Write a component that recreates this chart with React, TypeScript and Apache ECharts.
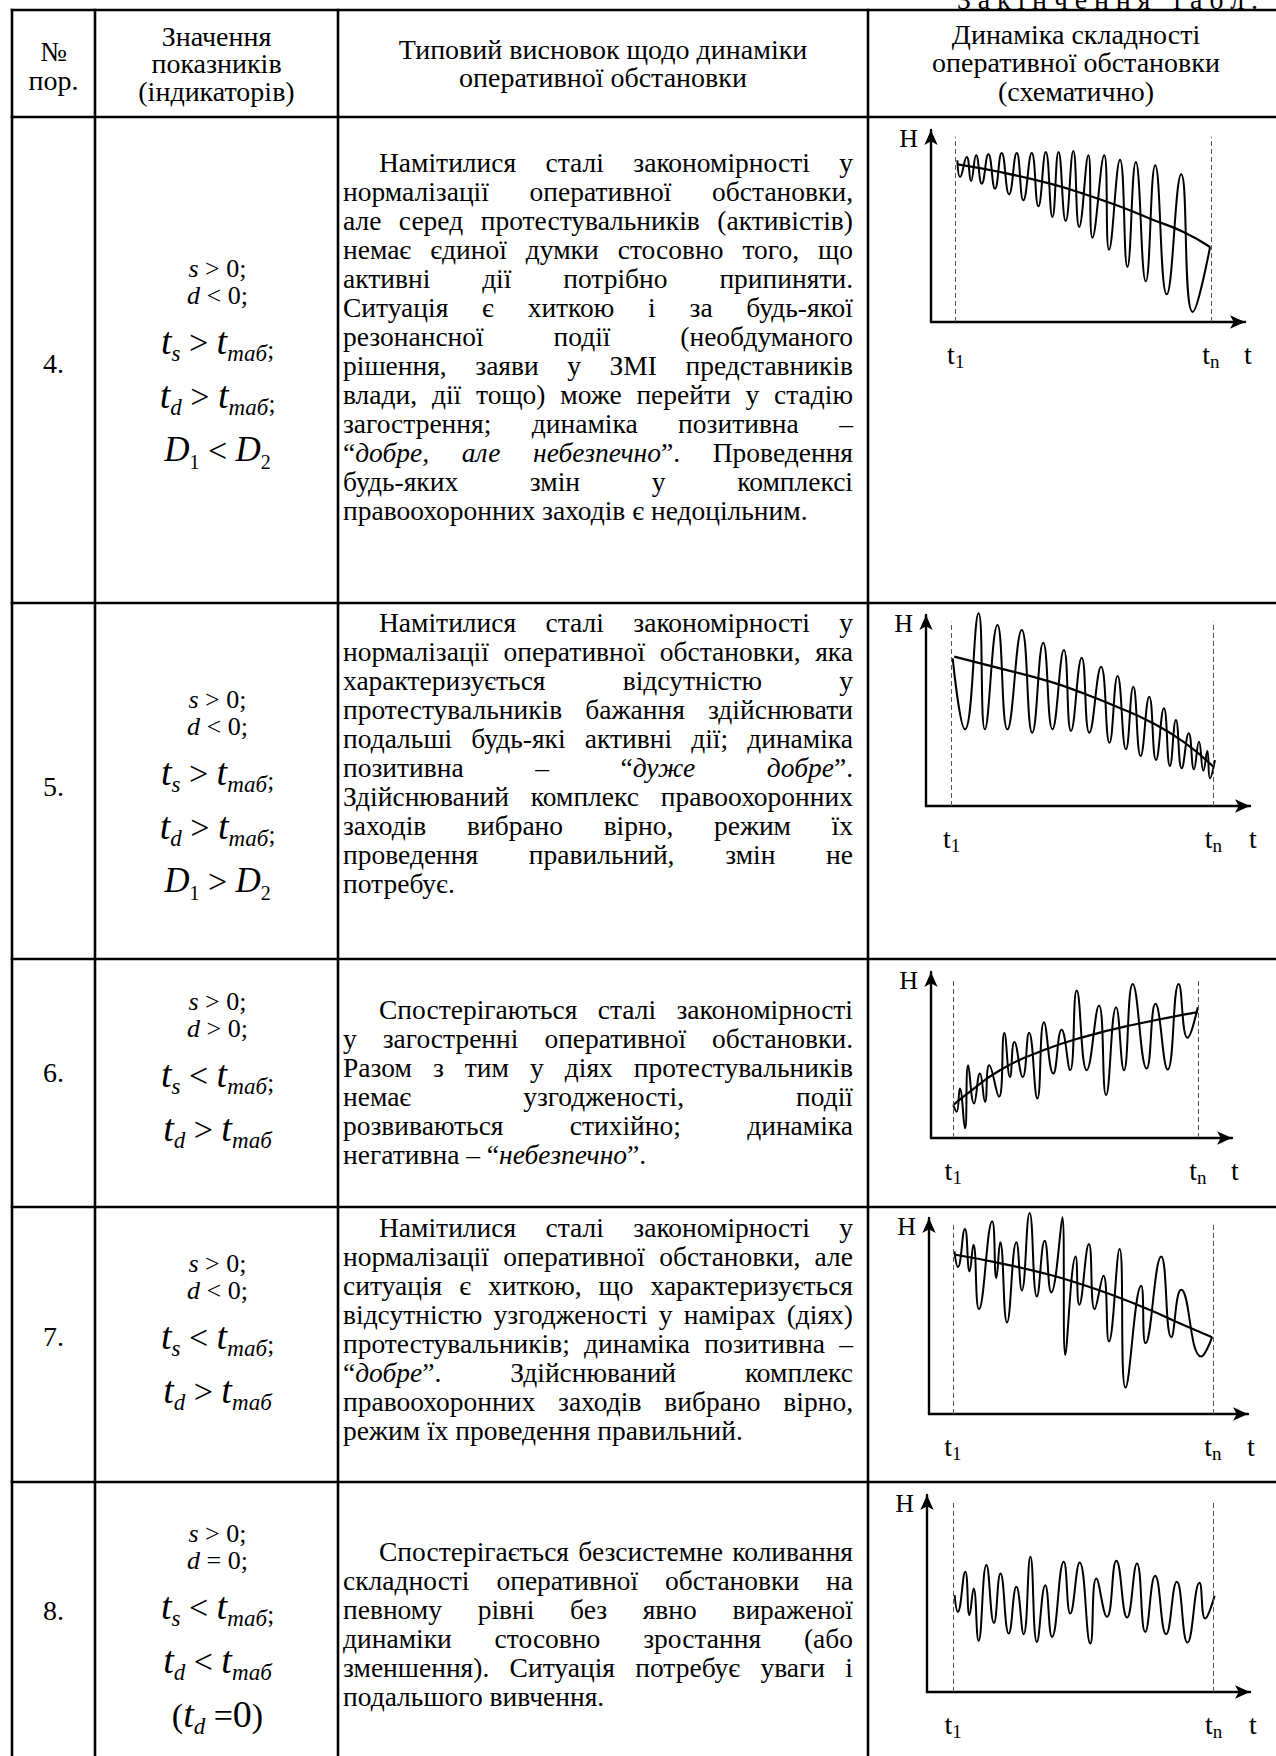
import React, { useEffect, useRef } from "react";
import * as echarts from "echarts";

const SERIF = "'Liberation Serif', 'Times New Roman', serif";
const PAGE_W = 1276;
const PAGE_H = 1756;

// ---------------- texts ----------------
const caption = "Закінчення табл. 1";
const headCol1 = ["№", "пор."];
const headCol2 = ["Значення", "показників", "(індикаторів)"];
const headCol3 = ["Типовий висновок щодо динаміки", "оперативної обстановки"];
const headCol4 = ["Динаміка складності", "оперативної обстановки", "(схематично)"];

const rowNumbers = ["4.", "5.", "6.", "7.", "8."];

const texts4 = [
  "Намітилися сталі закономірності у",
  "нормалізації оперативної обстановки,",
  "але серед протестувальників (активістів)",
  "немає єдиної думки стосовно того, що",
  "активні дії потрібно припиняти.",
  "Ситуація є хиткою і за будь-якої",
  "резонансної події (необдуманого",
  "рішення, заяви у ЗМІ представників",
  "влади, дії тощо) може перейти у стадію",
  "загострення; динаміка позитивна –",
  "“*добре, але небезпечно*”. Проведення",
  "будь-яких змін у комплексі",
  "правоохоронних заходів є недоцільним.",
];
const texts5 = [
  "Намітилися сталі закономірності у",
  "нормалізації оперативної обстановки, яка",
  "характеризується відсутністю у",
  "протестувальників бажання здійснювати",
  "подальші будь-які активні дії; динаміка",
  "позитивна – “*дуже добре*”.",
  "Здійснюваний комплекс правоохоронних",
  "заходів вибрано вірно, режим їх",
  "проведення правильний, змін не",
  "потребує.",
];
const texts6 = [
  "Спостерігаються сталі закономірності",
  "у загостренні оперативної обстановки.",
  "Разом з тим у діях протестувальників",
  "немає узгодженості, події",
  "розвиваються стихійно; динаміка",
  "негативна – “*небезпечно*”.",
];
const texts7 = [
  "Намітилися сталі закономірності у",
  "нормалізації оперативної обстановки, але",
  "ситуація є хиткою, що характеризується",
  "відсутністю узгодженості у намірах (діях)",
  "протестувальників; динаміка позитивна –",
  "“*добре*”. Здійснюваний комплекс",
  "правоохоронних заходів вибрано вірно,",
  "режим їх проведення правильний.",
];
const texts8 = [
  "Спостерігається безсистемне коливання",
  "складності оперативної обстановки на",
  "певному рівні без явно вираженої",
  "динаміки стосовно зростання (або",
  "зменшення). Ситуація потребує уваги і",
  "подальшого вивчення.",
];

// ---------------- formulas ----------------
type Tok = [string, string];
const small = (v: string, op: string, rhs: string): Tok[] => [
  [v, "v"], [" ", "n"], [op, "n"], [" ", "n"], [rhs, "n"],
];
const big = (sub: string, op: string, semi: boolean): Tok[] => {
  const t: Tok[] = [["t", "T"], [sub, "s"], [" ", "O"], [op, "O"], [" ", "O"], ["t", "T"], ["таб", "s"]];
  if (semi) t.push([";", "c"]);
  return t;
};
const dline = (op: string): Tok[] => [["D", "D"], ["1", "k"], [" ", "O"], [op, "O"], [" ", "O"], ["D", "D"], ["2", "k"]];
const zline: Tok[] = [["(", "P"], ["t", "T"], ["d", "s"], [" ", "O"], ["=", "O"], ["0", "Z"], [")", "P"]];

const formulas4: Tok[][] = [small("s", ">", "0;"), small("d", "<", "0;"), big("s", ">", true), big("d", ">", true), dline("<")];
const formulas5: Tok[][] = [small("s", ">", "0;"), small("d", "<", "0;"), big("s", ">", true), big("d", ">", true), dline(">")];
const formulas6: Tok[][] = [small("s", ">", "0;"), small("d", ">", "0;"), big("s", "<", true), big("d", ">", false)];
const formulas7: Tok[][] = [small("s", ">", "0;"), small("d", "<", "0;"), big("s", "<", true), big("d", ">", false)];
const formulas8: Tok[][] = [small("s", ">", "0;"), small("d", "=", "0;"), big("s", "<", true), big("d", "<", false), zline];

// ---------------- chart data: [t, H] (t1 = 0, tn = 100) ----------------
const wave4 = [[0.65,97],[1.7,87],[4.3,99],[6.0,84.6],[8.0,100],[10.2,83],[12.8,100.6],[15.4,80],[18.0,101.4],[20.9,76.6],[23.9,101.4],[26.5,73],[29.8,101.4],[32.4,69.4],[35.3,102],[37.9,63],[40.3,102],[43.1,60.6],[46.1,102.6],[48.4,57],[52.0,100],[53.6,50.6],[58.2,100],[60.1,43.4],[64.4,97.4],[67.3,33],[70.6,96],[74.5,24.4],[78.2,94],[82.7,16.6],[88.4,88.6],[92.9,6],[99.7,45]];
const trend4 = [[0.65,94.6],[17.4,90],[37,83],[50,77],[63.1,70],[76.2,62],[89.3,54],[99.7,45]];

const wave5 = [[0.4,88.6],[5.1,46],[10.3,115.6],[12.7,46],[17.5,108.6],[21.3,46],[26.8,105.6],[30.8,44],[35.0,98],[38.5,46],[42.9,93.6],[45.6,45],[49.7,89],[52.6,44],[57.1,83.6],[60.3,38],[63.4,78],[66.6,34],[69.4,71.6],[72.2,30],[75.5,65.6],[78.1,27.6],[81.1,58.6],[83.4,24],[85.7,51.6],[87.9,22.6],[90.6,43.6],[92.6,22],[94.5,38.6],[96.2,21.2],[97.7,33],[98.7,16.6],[100.6,27.6]];
const trend5 = [[1,89.6],[18.5,82.6],[37.6,74.6],[50.3,67.6],[63.1,59.6],[75.8,50.6],[88.5,38.6],[100,23.6]];

const wave6 = [[0,19.8],[1.4,15.8],[2.7,29.8],[4.8,5.8],[6.1,43.8],[8.5,20.8],[10.9,38.8],[13.0,21.8],[14.7,43.8],[18.7,24.8],[20.9,63.2],[23.2,36.8],[25.0,57.8],[28.4,36.8],[31.0,63.4],[34.4,23.8],[37.1,69.8],[40.9,38.8],[44.3,65.2],[47.8,40.8],[50.5,88.8],[54.6,40.8],[59.6,79.8],[62.5,25.8],[66.6,78.8],[69.8,40.8],[73.4,92.8],[79.1,41.8],[82.7,80.8],[87.7,41.2],[92.2,92.8],[95.8,60.4],[100,78.8]];
const trend6 = [[0,19.8],[5.5,26.4],[19.1,40.8],[36.8,52.8],[53.2,60.8],[73.7,68.2],[100,75.8]];

const wave7 = [[0.6,97.4],[1.9,88],[4.6,110.8],[6.4,85.4],[7.9,101.4],[10.0,62.8],[15.1,115.4],[16.7,81.4],[18.2,102.8],[20.8,54.8],[24.4,102.8],[26.5,74],[29.5,120.4],[32.3,70.4],[35.3,103.8],[37.8,72.8],[42.1,117.8],[43.2,35.4],[47.2,94.4],[48.6,65.4],[52.3,101.8],[54.5,62.8],[57.9,82.8],[60.0,43.4],[64.1,98.8],[66.4,15.8],[72.4,76.8],[74.1,42.4],[80.1,94.4],[84.0,46],[87.8,74.4],[95.5,34.4],[99.7,46]];
const trend7 = [[1,95.4],[17.9,90.4],[37.2,83.4],[50,77.4],[62.8,70.4],[75.6,62.4],[88.5,53.4],[99.7,46]];

const wave8 = [[0.6,58],[1.8,48],[4.7,72],[6.3,46],[7.9,62],[9.8,30.6],[12.8,76],[15.7,41.4],[18.2,71],[21.4,35],[24.3,63],[27.1,34.6],[29.7,81],[32.2,30],[35.4,64],[38,33],[42.5,78],[45,47],[48.6,77.6],[52.7,29],[55,68],[59.1,45],[62.7,78.6],[66.8,44.6],[70.6,77],[73.8,36],[77.6,69.6],[81.8,34.6],[85.9,66],[90,29.6],[94.6,65.4],[96.8,44],[100.4,57.6]];

const waves = [wave4, wave5, wave6, wave7, wave8];
const trends: (number[][] | null)[] = [trend4, trend5, trend6, trend7, null];

// axis extents (t-units and H-units) per schematic chart
const tMins = [-9.7, -9.8, -9.1, -9.2, -10];
const tMaxs = [113.4, 114, 114, 113.5, 114];
const hMaxs = [115.2, 114.6, 100, 117.4, 118];

// ---------------- layout (pixels) ----------------
const colX = [12, 95, 338, 868];
const rowY = [10, 117, 603, 959, 1207, 1482];
const chartBoxes = [
  { x0: 931, y0: 130, x1: 1245, y1: 322 },
  { x0: 926, y0: 615, x1: 1250, y1: 806 },
  { x0: 931, y0: 972, x1: 1232, y1: 1138 },
  { x0: 929, y0: 1218, x1: 1248, y1: 1414 },
  { x0: 927, y0: 1495, x1: 1250, y1: 1692 },
];
const rowLayout = [
  { numY: 363, fBase: 277, tBase: 171 },
  { numY: 786, fBase: 708, tBase: 631 },
  { numY: 1072, fBase: 1010, tBase: 1018 },
  { numY: 1336, fBase: 1272, tBase: 1236 },
  { numY: 1610, fBase: 1542, tBase: 1560 },
];
const BODY = 27.5;
const PITCH = 29;
const TEXT_X0 = 343;
const TEXT_X1 = 853;
const INDENT = 36;
const HEAD = 28;
const K = 0.32;

const FK: Record<string, { size: number; italic: boolean; dy: number }> = {
  v: { size: 26, italic: true, dy: 0 },
  n: { size: 26, italic: false, dy: 0 },
  T: { size: 38, italic: true, dy: 0 },
  O: { size: 34, italic: false, dy: 0 },
  s: { size: 23, italic: true, dy: 8 },
  k: { size: 20, italic: false, dy: 7 },
  D: { size: 35, italic: true, dy: 0 },
  c: { size: 25, italic: false, dy: 4 },
  Z: { size: 38, italic: false, dy: 0 },
  P: { size: 34, italic: false, dy: 0 },
};

let mctx: CanvasRenderingContext2D | null = null;
function measure(text: string, size: number, italic = false): number {
  if (!mctx) mctx = document.createElement("canvas").getContext("2d");
  mctx!.font = `${italic ? "italic " : ""}${size}px ${SERIF}`;
  return mctx!.measureText(text).width;
}

function T(text: string, x: number, baseline: number, size: number, italic = false, align = "left"): any {
  return {
    type: "text",
    x,
    y: baseline - K * size,
    silent: true,
    z: 10,
    style: {
      text,
      fill: "#000",
      fontSize: size,
      fontFamily: SERIF,
      fontStyle: italic ? "italic" : "normal",
      align,
      textAlign: align,
      verticalAlign: "middle",
      textVerticalAlign: "middle",
    },
  };
}

function parseWords(line: string) {
  const words: { text: string; italic: boolean }[][] = [];
  let cur: { text: string; italic: boolean }[] = [];
  let italic = false;
  let buf = "";
  const flush = () => {
    if (buf) {
      cur.push({ text: buf, italic });
      buf = "";
    }
  };
  for (const ch of line) {
    if (ch === "*") {
      flush();
      italic = !italic;
    } else if (ch === " ") {
      flush();
      if (cur.length) {
        words.push(cur);
        cur = [];
      }
    } else buf += ch;
  }
  flush();
  if (cur.length) words.push(cur);
  return words;
}

function paragraph(els: any[], lines: string[], firstBase: number) {
  const space = measure(" ", BODY);
  lines.forEach((line, i) => {
    const words = parseWords(line);
    const widths = words.map((w) => w.reduce((s, r) => s + measure(r.text, BODY, r.italic), 0));
    const total = widths.reduce((a, b) => a + b, 0);
    const left = TEXT_X0 + (i === 0 ? INDENT : 0);
    const isLast = i === lines.length - 1;
    let gap = space;
    if (!isLast && words.length > 1) gap = Math.max(space * 0.6, (TEXT_X1 - left - total) / (words.length - 1));
    const base = firstBase + i * PITCH;
    let x = left;
    words.forEach((w) => {
      w.forEach((r) => {
        els.push(T(r.text, x, base, BODY, r.italic));
        x += measure(r.text, BODY, r.italic);
      });
      x += gap;
    });
  });
}

function formula(els: any[], lines: Tok[][], firstBase: number, cx: number) {
  let base = firstBase;
  let prevBig = false;
  lines.forEach((toks, li) => {
    const isBig = toks.some((t) => t[1] !== "v" && t[1] !== "n");
    if (li > 0) base += !isBig ? 27 : prevBig ? 54 : 49;
    const widths = toks.map(([s, k]) => measure(s, FK[k].size, FK[k].italic));
    const total = widths.reduce((a, b) => a + b, 0);
    let x = cx - total / 2;
    toks.forEach(([s, k], ti) => {
      if (s.trim()) els.push(T(s, x, base + FK[k].dy, FK[k].size, FK[k].italic));
      x += widths[ti];
    });
    prevBig = isBig;
  });
}

function buildGraphic(): any[] {
  const els: any[] = [];
  const lw = 2.6;
  rowY.forEach((y) =>
    els.push({ type: "line", silent: true, shape: { x1: colX[0] - lw / 2, y1: y, x2: PAGE_W, y2: y }, style: { stroke: "#000", lineWidth: lw } })
  );
  colX.forEach((x) =>
    els.push({ type: "line", silent: true, shape: { x1: x, y1: rowY[0] - lw / 2, x2: x, y2: PAGE_H }, style: { stroke: "#000", lineWidth: lw } })
  );

  // caption (letter-spaced, partly cut by the page top as in the source)
  let cxp = 957;
  for (const ch of caption) {
    if (ch !== " ") els.push(T(ch, cxp, 8, HEAD));
    cxp += measure(ch, HEAD) + 6.8;
  }

  // header
  const c1 = (colX[0] + colX[1]) / 2;
  const c2 = (colX[1] + colX[2]) / 2;
  const c3 = (colX[2] + colX[3]) / 2;
  const c4 = 1076;
  headCol1.forEach((s, i) => els.push(T(s, c1, 60 + i * 29, HEAD, false, "center")));
  headCol2.forEach((s, i) => els.push(T(s, c2, 45 + i * 27.5, HEAD, false, "center")));
  headCol3.forEach((s, i) => els.push(T(s, c3, 58 + i * 28, HEAD, false, "center")));
  headCol4.forEach((s, i) => els.push(T(s, c4, 43 + i * 28.5, HEAD, false, "center")));

  const allTexts = [texts4, texts5, texts6, texts7, texts8];
  const allFormulas = [formulas4, formulas5, formulas6, formulas7, formulas8];
  rowNumbers.forEach((n, i) => {
    const L = rowLayout[i];
    els.push(T(n, c1, L.numY + K * 28, 28, false, "center"));
    formula(els, allFormulas[i], L.fBase, c2 + 1);
    paragraph(els, allTexts[i], L.tBase);
  });
  return els;
}

function buildOption() {
  const labelRich = {
    m: { fontSize: 28, fontFamily: SERIF, color: "#000", lineHeight: 34 },
    s: { fontSize: 19, fontFamily: SERIF, color: "#000", lineHeight: 20, padding: [14, 0, 0, 0] },
  };
  const axisLineStyle = { color: "#000", width: 2.4 };
  const grid = chartBoxes.map((b) => ({
    left: b.x0,
    top: b.y0,
    width: b.x1 - b.x0,
    height: b.y1 - b.y0,
    containLabel: false,
    outerBoundsMode: "none",
  }));
  const xAxis = chartBoxes.map((_, i) => ({
    type: "value",
    gridIndex: i,
    min: tMins[i],
    max: tMaxs[i],
    axisLine: { show: true, onZero: false, symbol: ["none", "arrow"], symbolSize: [10, 15], lineStyle: axisLineStyle },
    axisTick: { show: false },
    splitLine: { show: false },
    axisLabel: {
      show: true,
      customValues: [0, 100],
      margin: 15,
      formatter: (v: number) => (v === 0 ? "{m|t}{s|1}" : "{m|t}{s|n}"),
      rich: labelRich,
    },
    name: "t",
    nameLocation: "end",
    nameGap: 3,
    nameTextStyle: {
      fontSize: 28,
      fontFamily: SERIF,
      color: "#000",
      lineHeight: 34,
      align: "center",
      verticalAlign: "top",
      padding: [15, 0, 0, 0],
    },
  }));
  const yAxis = chartBoxes.map((_, i) => ({
    type: "value",
    gridIndex: i,
    min: 0,
    max: hMaxs[i],
    axisLine: { show: true, onZero: false, symbol: ["none", "arrow"], symbolSize: [10, 15], lineStyle: axisLineStyle },
    axisTick: { show: false },
    splitLine: { show: false },
    axisLabel: { show: false },
    name: "H",
    nameLocation: "end",
    nameGap: -8,
    nameTextStyle: {
      fontSize: 26,
      fontFamily: SERIF,
      color: "#000",
      align: "right",
      verticalAlign: "middle",
      padding: [0, 13, 0, 0],
    },
  }));
  const series: any[] = [];
  waves.forEach((w, i) => {
    const dashTop = hMaxs[i] - 4;
    const markLine = {
      silent: true,
      symbol: ["none", "none"],
      label: { show: false },
      lineStyle: { type: [5, 3], color: "#555", width: 1 },
      data: [
        [{ coord: [0, 0] }, { coord: [0, dashTop] }],
        [{ coord: [100, 0] }, { coord: [100, dashTop] }],
      ],
    };
    series.push({
      type: "line",
      xAxisIndex: i,
      yAxisIndex: i,
      data: w,
      smooth: 0.5,
      showSymbol: false,
      symbol: "none",
      clip: false,
      silent: true,
      lineStyle: { color: "#000", width: 2 },
      markLine: trends[i] ? undefined : markLine,
    });
    const tr = trends[i];
    if (tr) {
      series.push({
        type: "line",
        xAxisIndex: i,
        yAxisIndex: i,
        data: tr,
        smooth: true,
        showSymbol: false,
        symbol: "none",
        clip: false,
        silent: true,
        lineStyle: { color: "#000", width: 2.2 },
        markLine,
      });
    }
  });
  return {
    animation: false,
    backgroundColor: "#fff",
    grid,
    xAxis,
    yAxis,
    series,
    graphic: buildGraphic(),
  };
}

export default function App() {
  const ref = useRef<HTMLDivElement>(null);
  useEffect(() => {
    if (!ref.current) return;
    const chart = echarts.init(ref.current, null, { renderer: "svg" });
    chart.setOption(buildOption() as any);
    return () => chart.dispose();
  }, []);
  return (
    <div
      ref={ref}
      style={{ position: "absolute", left: 0, top: 0, width: PAGE_W, height: PAGE_H, background: "#fff" }}
    />
  );
}
